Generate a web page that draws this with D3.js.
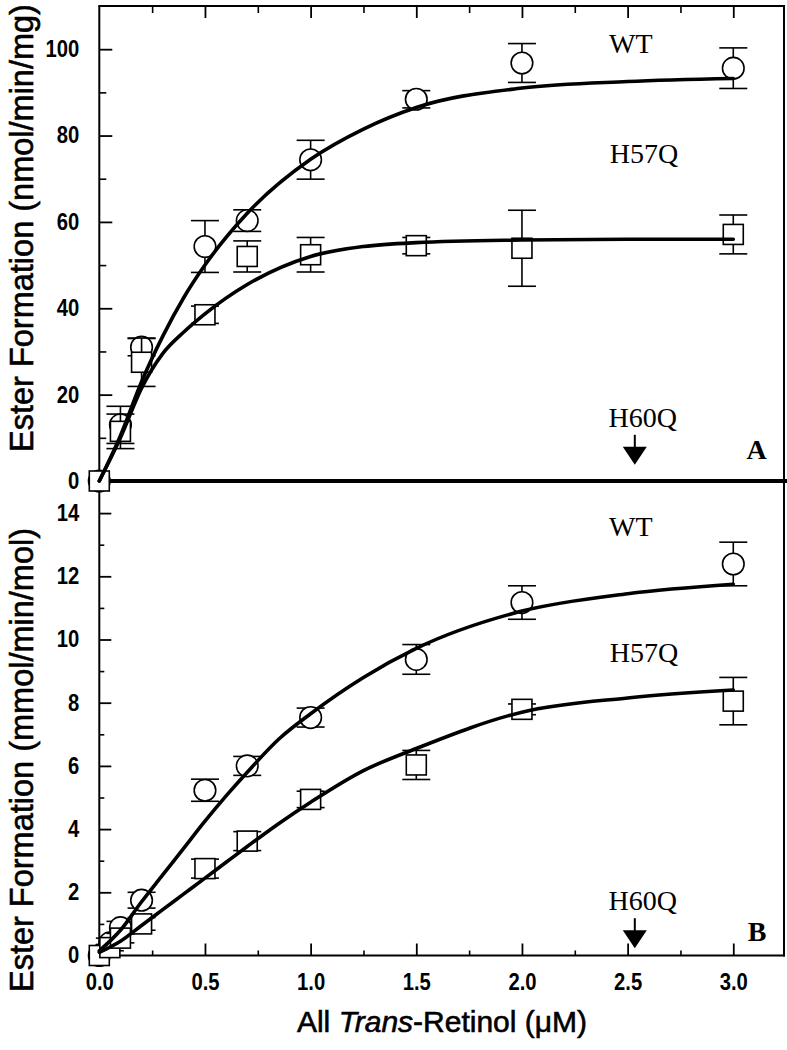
<!DOCTYPE html>
<html>
<head>
<meta charset="utf-8">
<script src="https://cdn.jsdelivr.net/npm/d3@7"></script>
<style>
  html, body { margin: 0; padding: 0; background: #fff; }
  svg { display: block; }
</style>
</head>
<body>
<svg id="chart" width="787" height="1050"></svg>
<script>
// ---------------- data ----------------
const xMajorTicks = [0, 0.5, 1.0, 1.5, 2.0, 2.5, 3.0];
const xMinorTicks = [0.25, 0.75, 1.25, 1.75, 2.25, 2.75];
const xTickLabels = ["0.0", "0.5", "1.0", "1.5", "2.0", "2.5", "3.0"];
const yTopMajorTicks = [0, 20, 40, 60, 80, 100];
const yTopMinorTicks = [10, 30, 50, 70, 90];
const yBotMajorTicks = [0, 2, 4, 6, 8, 10, 12, 14];
const yBotMinorTicks = [1, 3, 5, 7, 9, 11, 13];

// Panel A (nmol/min/mg)
const retinolA = [0, 0.1, 0.2, 0.5, 0.7, 1.0, 1.5, 2.0, 3.0];
const wtA      = [0, 13.0, 31.0, 54.3, 60.3, 74.4, 88.4, 96.8, 95.6];
const wtAErr   = [0, 4.3, 2.0, 6.0, 2.5, 4.5, 2.0, 4.5, 4.7];
const h57qA    = [0, 11.5, 27.5, 38.5, 52.0, 52.4, 54.5, 53.9, 57.1];
const h57qAErr = [0, 4.0, 5.6, 2.0, 3.6, 4.0, 1.9, 8.8, 4.5];
const fitXA     = [0, 0.1, 0.2, 0.3, 0.4, 0.5, 0.7, 1.0, 1.25, 1.5, 2.0, 2.5, 3.0];
const wtAFit    = [0, 10.5, 23.0, 33.5, 42.5, 50.0, 62.0, 74.5, 81.5, 86.5, 91.0, 92.5, 93.2];
const h57qAFit  = [0, 10.0, 21.5, 29.5, 34.5, 38.7, 45.5, 52.0, 54.3, 55.2, 55.8, 56.0, 56.0];

// Panel B (mmol/min/mol)
const retinolB = [0, 0.05, 0.1, 0.2, 0.5, 0.7, 1.0, 1.5, 2.0, 3.0];
const wtB      = [0, 0.40, 0.88, 1.75, 5.23, 6.00, 7.53, 9.37, 11.17, 12.39];
const wtBErr   = [0, 0.15, 0.20, 0.25, 0.35, 0.30, 0.30, 0.47, 0.53, 0.69];
const h57qB    = [0, 0.25, 0.55, 1.00, 2.75, 3.62, 4.94, 6.03, 7.79, 8.05];
const h57qBErr = [0, 0.10, 0.15, 0.20, 0.30, 0.30, 0.26, 0.46, 0.17, 0.75];
const fitXB     = [0, 0.1, 0.2, 0.3, 0.4, 0.5, 0.6, 0.7, 0.85, 1.0, 1.25, 1.5, 2.0, 2.5, 3.0];
const wtBFit    = [0.15, 0.80, 1.70, 2.55, 3.40, 4.25, 5.05, 5.80, 6.85, 7.65, 8.80, 9.72, 10.90, 11.45, 11.75];
const h57qBFit  = [0.10, 0.45, 0.95, 1.45, 1.95, 2.45, 2.95, 3.45, 4.18, 4.85, 5.85, 6.55, 7.70, 8.15, 8.40];

const seriesLabels = ["WT", "H57Q", "H60Q"];
const panelLetters = ["A", "B"];
const yTitleA = "Ester Formation (nmol/min/mg)";
const yTitleB = "Ester Formation (mmol/min/mol)";

// ---------------- scales ----------------
const svg = d3.select("#chart");
const x  = d3.scaleLinear().domain([0, 3.24]).range([99.3, 784]);
const yA = d3.scaleLinear().domain([0, 110]).range([481, 6]);
const yB = d3.scaleLinear().domain([0, 15]).range([955.5, 481.5]);

const sansFont = "'Liberation Sans', Arial, Helvetica, sans-serif";
const serifFont = "'Liberation Serif', 'Times New Roman', Times, serif";
const labelScale = 0.88;

function styleTickText(g, isLeft) {
  g.selectAll(".tick text")
    .attr("font-family", sansFont)
    .attr("font-weight", "bold")
    .attr("font-size", 23)
    .attr("fill", "#000")
    .attr("transform", `scale(${labelScale},1)`);
  if (isLeft) g.selectAll(".tick text").attr("x", -20 / labelScale);
}
function styleTicks(g, w) {
  g.select(".domain").remove();
  g.selectAll(".tick line").attr("stroke", "#000").attr("stroke-width", w);
}

// ---------------- axes / ticks ----------------
svg.append("g").attr("transform", `translate(0,${yA(110)})`)
  .call(d3.axisTop(x).tickValues(xMajorTicks.slice(1)).tickSize(-12).tickFormat(""))
  .call(g => styleTicks(g, 1.8));
svg.append("g").attr("transform", `translate(0,${yA(110)})`)
  .call(d3.axisTop(x).tickValues(xMinorTicks).tickSize(-7).tickFormat(""))
  .call(g => styleTicks(g, 1.6));

svg.append("g").attr("transform", `translate(${x(0)},0)`)
  .call(d3.axisLeft(yA).tickValues(yTopMajorTicks).tickSize(-13).tickPadding(20).tickFormat(d3.format("d")))
  .call(g => { styleTicks(g, 1.8); styleTickText(g, true); });
svg.append("g").attr("transform", `translate(${x(0)},0)`)
  .call(d3.axisLeft(yA).tickValues(yTopMinorTicks).tickSize(-7).tickFormat(""))
  .call(g => styleTicks(g, 1.6));

svg.append("g").attr("transform", `translate(${x(0)},0)`)
  .call(d3.axisLeft(yB).tickValues(yBotMajorTicks).tickSize(-12).tickPadding(20).tickFormat(d3.format("d")))
  .call(g => { styleTicks(g, 1.8); styleTickText(g, true); });
svg.append("g").attr("transform", `translate(${x(0)},0)`)
  .call(d3.axisLeft(yB).tickValues(yBotMinorTicks).tickSize(-5).tickFormat(""))
  .call(g => styleTicks(g, 1.6));

svg.append("g").attr("transform", `translate(0,${yB(0)})`)
  .call(d3.axisBottom(x).tickValues(xMajorTicks).tickSize(-12).tickPadding(18)
        .tickFormat((d, i) => xTickLabels[i]))
  .call(g => { styleTicks(g, 1.8); styleTickText(g, false); });
svg.append("g").attr("transform", `translate(0,${yB(0)})`)
  .call(d3.axisBottom(x).tickValues(xMinorTicks).tickSize(-5).tickFormat(""))
  .call(g => styleTicks(g, 1.6));

// ---------------- frame ----------------
const frame = svg.append("g").attr("stroke", "#000").attr("fill", "none");
const xL = x(0), xR = x.range()[1];
frame.append("line").attr("x1", xL - 1).attr("x2", xR + 1).attr("y1", yA(110)).attr("y2", yA(110)).attr("stroke-width", 2);
frame.append("line").attr("x1", xL).attr("x2", xL).attr("y1", yA(110)).attr("y2", yB(0) + 1).attr("stroke-width", 2);
frame.append("line").attr("x1", xR).attr("x2", xR).attr("y1", yA(110)).attr("y2", yB(0) + 1).attr("stroke-width", 2);
frame.append("line").attr("x1", xL - 1).attr("x2", xR + 1).attr("y1", yB(0)).attr("y2", yB(0)).attr("stroke-width", 2);
frame.append("line").attr("x1", xL).attr("x2", 787).attr("y1", yA(0)).attr("y2", yA(0)).attr("stroke-width", 4);

// ---------------- data marks ----------------
function drawSeries(xs, ys, errs, yScale, shape) {
  const g = svg.append("g");
  const pts = xs.map((d, i) => ({ x: d, y: ys[i], e: errs[i] }));
  const eb = g.append("g").attr("stroke", "#000").attr("stroke-width", 1.6);
  pts.filter(p => p.e > 0).forEach(p => {
    const cx = x(p.x), y1 = yScale(p.y + p.e), y2 = yScale(p.y - p.e);
    eb.append("line").attr("x1", cx).attr("x2", cx).attr("y1", y1).attr("y2", y2);
    eb.append("line").attr("x1", cx - 14).attr("x2", cx + 14).attr("y1", y1).attr("y2", y1);
    eb.append("line").attr("x1", cx - 14).attr("x2", cx + 14).attr("y1", y2).attr("y2", y2);
  });
  if (shape === "circle") {
    g.selectAll("circle").data(pts).join("circle")
      .attr("cx", p => x(p.x)).attr("cy", p => yScale(p.y)).attr("r", 10.8)
      .attr("fill", "#fff").attr("stroke", "#000").attr("stroke-width", 1.6);
  } else {
    g.selectAll("rect").data(pts).join("rect")
      .attr("x", p => x(p.x) - 10).attr("y", p => yScale(p.y) - 10)
      .attr("width", 20).attr("height", 20)
      .attr("fill", "#fff").attr("stroke", "#000").attr("stroke-width", 1.6);
  }
}
function drawFit(xs, ys, yScale) {
  const line = d3.line().x(d => x(d[0])).y(d => yScale(d[1])).curve(d3.curveMonotoneX);
  svg.append("path").attr("d", line(xs.map((d, i) => [d, ys[i]])))
    .attr("fill", "none").attr("stroke", "#000").attr("stroke-width", 3.6)
    .attr("stroke-linejoin", "round").attr("stroke-linecap", "round");
}

drawSeries(retinolA, wtA, wtAErr, yA, "circle");
drawSeries(retinolA, h57qA, h57qAErr, yA, "square");
drawFit(fitXA, wtAFit, yA);
drawFit(fitXA, h57qAFit, yA);

drawSeries(retinolB, wtB, wtBErr, yB, "circle");
drawSeries(retinolB, h57qB, h57qBErr, yB, "square");
drawFit(fitXB, wtBFit, yB);
drawFit(fitXB, h57qBFit, yB);

// ---------------- annotations ----------------
function annot(text, xv, yv, yScale, bold) {
  svg.append("text").attr("x", x(xv)).attr("y", yScale(yv))
    .attr("text-anchor", "middle").attr("font-family", serifFont)
    .attr("font-size", 28).attr("font-weight", bold ? "bold" : "normal")
    .attr("fill", "#000").text(text);
}
function arrow(xv, yTop, yScale) {
  const cx = x(xv), y0 = yScale(yTop);
  svg.append("line").attr("x1", cx).attr("x2", cx).attr("y1", y0).attr("y2", y0 + 14)
    .attr("stroke", "#000").attr("stroke-width", 2);
  svg.append("path")
    .attr("d", `M${cx - 12},${y0 + 12} L${cx + 12},${y0 + 12} L${cx},${y0 + 30} Z`)
    .attr("fill", "#000");
}
annot(seriesLabels[0], 2.515, 99.1, yA);
annot(seriesLabels[1], 2.577, 73.6, yA);
annot(seriesLabels[2], 2.572, 12.5, yA);
arrow(2.534, 10.7, yA);
annot(panelLetters[0], 3.111, 5.1, yA, true);

annot(seriesLabels[0], 2.515, 13.28, yB);
annot(seriesLabels[1], 2.577, 9.29, yB);
annot(seriesLabels[2], 2.572, 1.44, yB);
arrow(2.534, 1.18, yB);
annot(panelLetters[1], 3.113, 0.46, yB, true);

// ---------------- axis titles ----------------
function yTitle(text, cy) {
  svg.append("text").attr("transform", `translate(33,${cy}) rotate(-90)`)
    .attr("text-anchor", "middle").attr("font-family", sansFont)
    .attr("font-size", 32.5).attr("fill", "#000")
    .attr("stroke", "#000").attr("stroke-width", 0.6)
    .text(text);
}
yTitle(yTitleA, 228);
yTitle(yTitleB, 760);

const xt = svg.append("text").attr("x", 442).attr("y", 1032)
  .attr("text-anchor", "middle").attr("font-family", sansFont)
  .attr("font-size", 30).attr("fill", "#000")
  .attr("stroke", "#000").attr("stroke-width", 0.6);
xt.append("tspan").text("All ");
xt.append("tspan").attr("font-style", "italic").text("Trans");
xt.append("tspan").text("-Retinol (\u03BCM)");
</script>
</body>
</html>
